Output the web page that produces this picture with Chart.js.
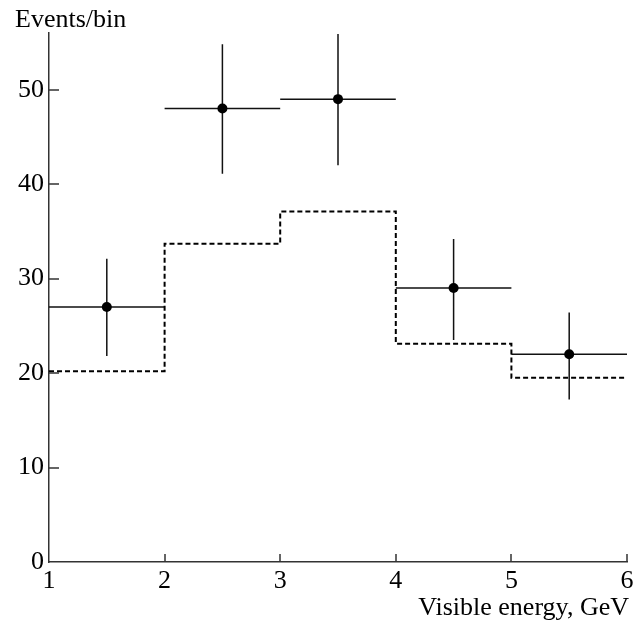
<!DOCTYPE html>
<html>
<head>
<meta charset="utf-8">
<script src="https://cdn.jsdelivr.net/npm/chart.js@4"></script>
<style>
  html, body { margin: 0; padding: 0; background: #fff; }
</style>
</head>
<body>
<canvas id="energyChart" width="640" height="622"></canvas>
<script>
// bin edges / centres in GeV
const binEdges = [1, 2, 3, 4, 5, 6]
const binCenters = [1.5, 2.5, 3.5, 4.5, 5.5]
// measured events per bin, with error bar ends
const observed = [27, 48, 49, 29, 22]
const errHigh = [32.1, 54.8, 55.9, 34.2, 26.4]
const errLow = [21.8, 41.1, 42.0, 23.5, 17.2]
// expectation (dashed histogram)
const expected = [20.2, 33.7, 37.1, 23.1, 19.5]
const xTicks = [1, 2, 3, 4, 5, 6]
const yTicks = [0, 10, 20, 30, 40, 50]

const serif = '"Liberation Serif", "Times New Roman", serif'
Chart.defaults.font.family = serif
Chart.defaults.font.size = 26
Chart.defaults.color = '#000'

// histogram needs a point on each edge, last value repeated to close the last bin
const histPoints = binEdges.map((e, i) => ({ x: e, y: expected[Math.min(i, expected.length - 1)] }))
const obsPoints = binCenters.map((c, i) => ({ x: c, y: observed[i] }))

const errorBars = {
  id: 'errorBars',
  beforeDatasetsDraw(chart) {
    const { ctx, scales: { x, y } } = chart
    ctx.save()
    ctx.strokeStyle = '#111'
    ctx.lineWidth = 1.5
    ctx.beginPath()
    binCenters.forEach((c, i) => {
      const px = x.getPixelForValue(c)
      const py = y.getPixelForValue(observed[i])
      ctx.moveTo(x.getPixelForValue(binEdges[i]), py)
      ctx.lineTo(x.getPixelForValue(binEdges[i + 1]), py)
      ctx.moveTo(px, y.getPixelForValue(errHigh[i]))
      ctx.lineTo(px, y.getPixelForValue(errLow[i]))
    })
    ctx.stroke()
    ctx.restore()
  }
}

// inward tick marks and the two axis titles
const axisDecor = {
  id: 'axisDecor',
  afterDraw(chart) {
    const { ctx, chartArea: a, scales: { x, y } } = chart
    ctx.save()
    ctx.strokeStyle = '#333'
    ctx.lineWidth = 1.5
    ctx.beginPath()
    yTicks.forEach(v => {
      if (v === 0) return
      const py = Math.round(y.getPixelForValue(v))
      ctx.moveTo(a.left, py)
      ctx.lineTo(a.left + 10, py)
    })
    xTicks.forEach(v => {
      if (v === 1) return
      const px = Math.round(x.getPixelForValue(v))
      ctx.moveTo(px, a.bottom)
      ctx.lineTo(px, a.bottom - 8)
    })
    ctx.stroke()
    ctx.fillStyle = '#000'
    ctx.font = '26px ' + serif
    ctx.textBaseline = 'alphabetic'
    ctx.textAlign = 'left'
    ctx.fillText('Events/bin', a.left - 34, a.top - 6)
    ctx.textAlign = 'right'
    ctx.fillText('Visible energy, GeV', a.right + 2, a.bottom + 53)
    ctx.restore()
  }
}

new Chart(document.getElementById('energyChart'), {
  type: 'scatter',
  data: {
    datasets: [{
      label: 'Expected',
      data: histPoints,
      showLine: true,
      stepped: 'before',
      borderColor: '#000',
      borderWidth: 2,
      borderDash: [5, 3],
      pointRadius: 0,
      fill: false
    }, {
      label: 'Data',
      data: obsPoints,
      pointRadius: 5,
      pointHoverRadius: 5,
      backgroundColor: '#000',
      borderColor: '#000',
      borderWidth: 0
    }]
  },
  options: {
    responsive: false,
    animation: false,
    devicePixelRatio: 1,
    layout: { padding: { top: 33, right: 13, left: 0, bottom: 0 } },
    plugins: {
      legend: { display: false },
      tooltip: { enabled: false }
    },
    scales: {
      x: {
        type: 'linear',
        min: 1,
        max: 6,
        afterBuildTicks: s => { s.ticks = xTicks.map(v => ({ value: v })) },
        afterFit: s => { s.height = 60 },
        grid: { display: false, drawTicks: false },
        border: { display: true, color: '#333', width: 1.5 },
        ticks: { padding: 4, maxRotation: 0, autoSkip: false, color: '#000' }
      },
      y: {
        type: 'linear',
        min: 0,
        max: 56,
        afterBuildTicks: s => { s.ticks = yTicks.map(v => ({ value: v })) },
        afterFit: s => { s.width = 49 },
        grid: { display: false, drawTicks: false },
        border: { display: true, color: '#333', width: 1.5 },
        ticks: { padding: 5, color: '#000' }
      }
    }
  },
  plugins: [errorBars, axisDecor]
})
</script>
</body>
</html>
